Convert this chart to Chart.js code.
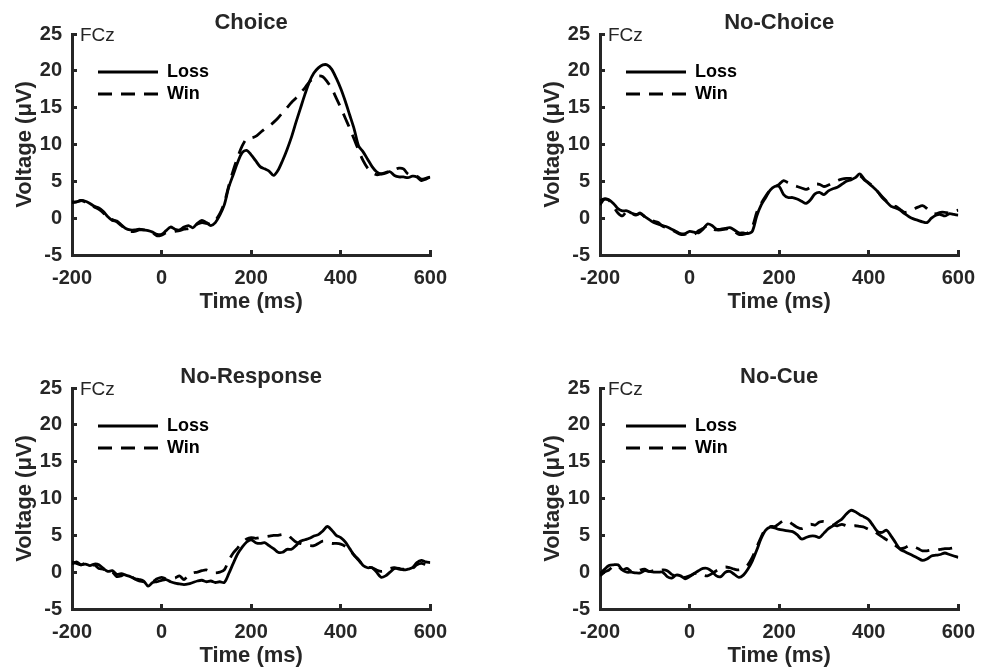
<!DOCTYPE html>
<html>
<head>
<meta charset="utf-8">
<script src="https://cdn.jsdelivr.net/npm/chart.js@4/dist/chart.umd.min.js"></script>
<style>
  html, body { margin: 0; padding: 0; background: #fff; overflow: hidden; width: 991px; height: 672px; }
  canvas { position: absolute; }
</style>
</head>
<body>
<canvas id="c1" width="463" height="336" style="left:0px;top:0px"></canvas>
<canvas id="c2" width="463" height="336" style="left:528px;top:0px"></canvas>
<canvas id="c3" width="463" height="336" style="left:0px;top:354px"></canvas>
<canvas id="c4" width="463" height="336" style="left:528px;top:354px"></canvas>
<script>
// ---- data ----
const times = [-200,-190,-180,-170,-160,-150,-140,-130,-120,-110,-100,-90,-80,-70,-60,-50,-40,-30,-20,-10,
  0,10,20,30,40,50,60,70,80,90,100,110,120,130,140,150,160,170,180,190,
  200,210,220,230,240,250,260,270,280,290,300,310,320,330,340,350,360,370,380,390,
  400,410,420,430,440,450,460,470,480,490,500,510,520,530,540,550,560,570,580,590,600];

const panelTitles = ['Choice', 'No-Choice', 'No-Response', 'No-Cue'];
const seriesNames = ['Loss', 'Win'];
const channelLabel = 'FCz';
const xTicks = [-200, 0, 200, 400, 600];
const yTicks = [-5, 0, 5, 10, 15, 20, 25];

const choiceLoss = [2.2,2.2,2.4,2.3,2.0,1.6,1.4,0.9,0.2,-0.3,-0.4,-0.9,-1.4,-1.6,-1.6,-1.5,-1.6,-1.7,-1.9,-2.2,
  -2.2,-1.7,-1.2,-1.5,-1.6,-1.2,-1.0,-1.3,-0.7,-0.3,-0.6,-1.0,-0.6,0.4,1.8,4.2,5.9,7.6,8.9,9.2,
  8.6,7.8,7.0,6.7,6.4,5.8,6.5,7.8,9.3,11.0,13.0,14.9,16.8,18.5,19.7,20.4,20.8,20.8,20.2,19.0,
  17.6,15.9,14.0,12.1,9.8,9.0,8.0,7.0,6.3,6.0,6.1,6.3,5.8,5.6,5.6,5.5,5.7,5.6,5.1,5.3,5.6];
const choiceWin = [2.1,2.2,2.4,2.2,1.9,1.5,1.2,0.7,0.0,-0.2,-0.5,-1.0,-1.5,-1.8,-1.8,-1.6,-1.6,-1.8,-2.0,-2.4,
  -2.3,-2.0,-1.9,-1.8,-1.7,-1.5,-1.4,-1.2,-0.8,-0.6,-0.7,-0.8,-0.3,0.6,2.1,4.4,6.5,8.3,9.8,10.8,
  10.9,11.1,11.6,12.1,12.5,13.0,13.6,14.3,15.0,15.7,16.3,17.0,17.7,18.5,19.0,19.3,19.2,18.5,17.6,16.3,
  15.0,13.6,12.2,10.7,9.2,7.8,6.8,6.2,5.9,6.0,6.2,6.4,6.6,6.8,6.7,6.0,5.8,5.7,5.3,5.4,5.6];

const noChoiceLoss = [2.4,2.6,2.5,2.0,1.3,1.0,1.0,0.7,0.5,0.6,0.2,-0.2,-0.6,-0.8,-1.0,-1.2,-1.5,-1.8,-2.1,-2.1,
  -1.8,-1.9,-2.0,-1.5,-0.8,-1.0,-1.5,-1.5,-1.4,-1.3,-1.6,-2.0,-2.0,-2.1,-1.8,0.3,1.8,2.8,3.8,4.3,
  4.3,3.2,2.8,2.8,2.6,2.3,2.0,2.5,3.3,3.5,3.2,3.7,4.0,4.2,4.6,5.0,5.2,5.5,6.0,5.3,
  4.7,4.2,3.6,2.8,2.2,1.6,1.4,1.1,0.6,0.2,-0.1,-0.3,-0.5,-0.6,0.0,0.4,0.5,0.3,0.6,0.5,0.4];
const noChoiceWin = [1.8,2.6,2.4,1.6,0.7,0.3,0.9,0.7,0.4,0.7,0.2,-0.2,-0.4,-0.6,-1.1,-1.3,-1.6,-1.9,-2.2,-2.2,
  -2.0,-2.2,-1.7,-1.4,-1.0,-1.4,-1.6,-1.6,-1.5,-1.4,-1.8,-2.2,-2.2,-2.0,-1.2,0.8,2.0,3.0,3.8,4.2,
  4.6,5.1,4.8,4.5,4.3,4.1,3.9,4.2,4.6,4.6,4.3,4.5,4.8,5.1,5.3,5.4,5.4,5.6,5.8,5.2,
  4.8,4.3,3.6,2.9,2.3,1.8,1.6,1.2,0.8,0.9,1.2,1.5,1.7,1.3,0.7,0.6,0.8,0.8,0.7,0.9,1.1];

const noResponseLoss = [1.4,1.2,1.0,1.1,0.9,1.1,1.0,0.5,0.1,0.2,-0.3,-0.2,-0.4,-0.6,-0.9,-1.0,-1.2,-1.9,-1.4,-1.3,
  -1.1,-1.0,-1.3,-1.5,-1.6,-1.7,-1.6,-1.4,-1.2,-1.1,-1.3,-1.2,-1.4,-1.3,-1.4,-0.2,1.2,2.5,3.4,4.1,
  4.4,4.0,3.9,4.0,3.6,3.2,2.7,2.7,3.1,3.1,3.6,4.2,4.4,4.6,4.9,5.1,5.6,6.2,5.7,5.0,
  4.7,4.1,3.2,2.3,1.7,0.9,0.6,0.6,0.0,-0.7,-0.5,0.0,0.5,0.5,0.3,0.4,0.6,1.3,1.6,1.4,1.3];
const noResponseWin = [1.1,1.4,1.0,1.2,0.8,1.0,0.5,0.4,-0.1,0.0,-0.6,-0.5,-0.2,-0.5,-0.9,-1.2,-1.3,-1.5,-1.3,-0.9,
  -0.7,-0.9,-0.8,-0.8,-0.5,-1.0,-0.4,-0.1,0.0,0.2,0.3,0.0,-0.1,0.0,0.3,1.6,2.6,3.3,4.0,4.5,
  4.7,4.6,4.7,4.8,4.9,5.0,5.0,5.1,5.1,4.6,4.1,3.9,3.7,3.6,3.6,3.9,4.2,4.1,3.9,3.9,
  3.8,3.5,3.0,2.3,1.6,1.0,0.7,0.6,0.3,0.1,0.2,0.5,0.6,0.4,0.4,0.3,0.5,1.0,1.2,1.0,0.7];

const noCueLoss = [-0.2,0.4,0.9,1.0,1.0,0.3,0.0,0.0,-0.1,-0.1,0.2,0.1,0.0,0.0,0.0,-0.6,-0.8,-0.4,-0.5,-0.9,
  -0.6,-0.2,0.2,0.5,0.5,0.1,-0.5,-0.6,0.0,0.1,-0.3,-0.7,-0.4,0.4,1.5,3.0,4.6,5.7,6.1,6.0,
  5.8,5.7,5.6,5.5,5.1,4.5,4.7,4.9,4.9,4.7,5.3,5.9,6.3,6.8,7.2,7.9,8.4,8.2,7.8,7.5,
  7.1,6.3,5.5,5.4,5.7,4.9,4.0,3.1,2.8,2.5,2.2,1.9,1.6,1.8,2.2,2.3,2.4,2.6,2.4,2.2,2.0];
const noCueWin = [-0.5,0.0,0.3,0.8,0.8,0.3,0.5,0.1,0.0,0.3,0.4,0.1,0.2,0.1,0.3,0.2,-0.3,-0.5,-0.6,-0.7,
  -0.5,-0.2,-0.1,-0.4,-0.5,-0.2,0.2,0.5,0.7,0.6,0.4,0.3,0.5,1.0,2.0,3.4,4.8,5.9,6.2,6.2,
  6.6,7.0,6.9,6.5,6.1,5.9,6.2,6.5,6.4,6.8,6.9,6.7,6.4,6.3,6.5,6.3,6.2,6.3,6.2,6.1,
  5.8,5.6,5.2,4.8,4.4,4.1,3.6,3.2,3.3,3.6,3.5,3.2,2.9,2.9,3.0,3.0,3.1,3.2,3.2,3.3,3.4];

const panelSeries = [
  [choiceLoss, choiceWin],
  [noChoiceLoss, noChoiceWin],
  [noResponseLoss, noResponseWin],
  [noCueLoss, noCueWin]
];

// ---- styling ----
const FONT = '"Liberation Sans", Arial, Helvetica, sans-serif';
const AX = '#262626';
const LINE_W = 2.8;
const DASH = [14, 9];

const placeExtras = {
  id: 'placeExtras',
  afterLayout(chart) {
    const lg = chart.legend;
    const ca = chart.chartArea;
    if (lg) {
      const h = lg.bottom - lg.top;
      const w = lg.right - lg.left;
      lg.left = ca.left + 22; lg.right = lg.left + w;
      lg.top = ca.top + 25; lg.bottom = lg.top + h;
    }
  },
  afterDraw(chart) {
    const ctx = chart.ctx;
    const ca = chart.chartArea;
    ctx.save();
    ctx.font = '19px ' + FONT;
    ctx.fillStyle = AX;
    ctx.textAlign = 'left';
    ctx.textBaseline = 'middle';
    ctx.fillText(channelLabel, ca.left + 8, ca.top + 2);
    ctx.restore();
  }
};

function legendLabels(chart) {
  const items = Chart.defaults.plugins.legend.labels.generateLabels(chart);
  items.forEach(it => {
    const ds = chart.data.datasets[it.datasetIndex];
    it.lineDash = ds.borderDash || [];
    it.lineWidth = LINE_W;
    it.strokeStyle = '#000';
    it.fillStyle = '#000';
    it.pointStyle = 'line';
    it.lineCap = 'butt';
  });
  return items;
}

function makeChart(id, idx) {
  const [loss, win] = panelSeries[idx];
  const toXY = arr => times.map((t, i) => ({x: t, y: arr[i]}));
  return new Chart(document.getElementById(id), {
    type: 'line',
    data: {
      datasets: [
        { label: seriesNames[0], data: toXY(loss), borderColor: '#000', backgroundColor: '#000',
          borderWidth: LINE_W, borderDash: [], pointRadius: 0, tension: 0.3, fill: false, borderJoinStyle: 'round' },
        { label: seriesNames[1], data: toXY(win), borderColor: '#000', backgroundColor: '#000',
          borderWidth: LINE_W, borderDash: DASH, pointRadius: 0, tension: 0.3, fill: false }
      ]
    },
    options: {
      responsive: false,
      animation: false,
      devicePixelRatio: 1,
      layout: { padding: { left: 0, right: 19, top: 0, bottom: 0 } },
      plugins: {
        tooltip: { enabled: false },
        title: {
          display: true, text: panelTitles[idx], color: AX, fullSize: false,
          font: { family: FONT, size: 22, weight: 'bold', lineHeight: 1 },
          padding: { top: 12, bottom: 0 }
        },
        legend: {
          display: true, position: 'chartArea', align: 'start',
          labels: {
            usePointStyle: true, pointStyle: 'line', pointStyleWidth: 60,
            color: '#000', padding: 4,
            font: { family: FONT, size: 18, weight: 'bold' },
            generateLabels: legendLabels
          }
        }
      },
      scales: {
        x: {
          type: 'linear', min: -200, max: 600,
          afterFit: s => { s.height = 81; },
          afterBuildTicks: s => { s.ticks = xTicks.map(v => ({value: v})); },
          ticks: { color: AX, padding: 16, font: { family: FONT, size: 20, weight: 'bold' } },
          grid: { drawOnChartArea: false, drawTicks: true, tickLength: -5, color: AX, lineWidth: 3 },
          border: { display: true, color: AX, width: 3 },
          title: { display: true, text: 'Time (ms)', color: AX,
            font: { family: FONT, size: 22, weight: 'bold', lineHeight: 1 },
            padding: { top: 0, bottom: 23 } }
        },
        y: {
          type: 'linear', min: -5, max: 25,
          afterFit: s => { s.width = 72; },
          afterBuildTicks: s => { s.ticks = yTicks.map(v => ({value: v})); },
          ticks: { color: AX, padding: 15, font: { family: FONT, size: 20, weight: 'bold' } },
          grid: { drawOnChartArea: false, drawTicks: true, tickLength: -5, color: AX, lineWidth: 3 },
          border: { display: true, color: AX, width: 3 },
          title: { display: true, text: 'Voltage (μV)', color: AX,
            font: { family: FONT, size: 22, weight: 'bold', lineHeight: 1 },
            padding: { top: 14, bottom: 0 } }
        }
      }
    },
    plugins: [placeExtras]
  });
}

makeChart('c1', 0);
makeChart('c2', 1);
makeChart('c3', 2);
makeChart('c4', 3);
</script>
</body>
</html>
